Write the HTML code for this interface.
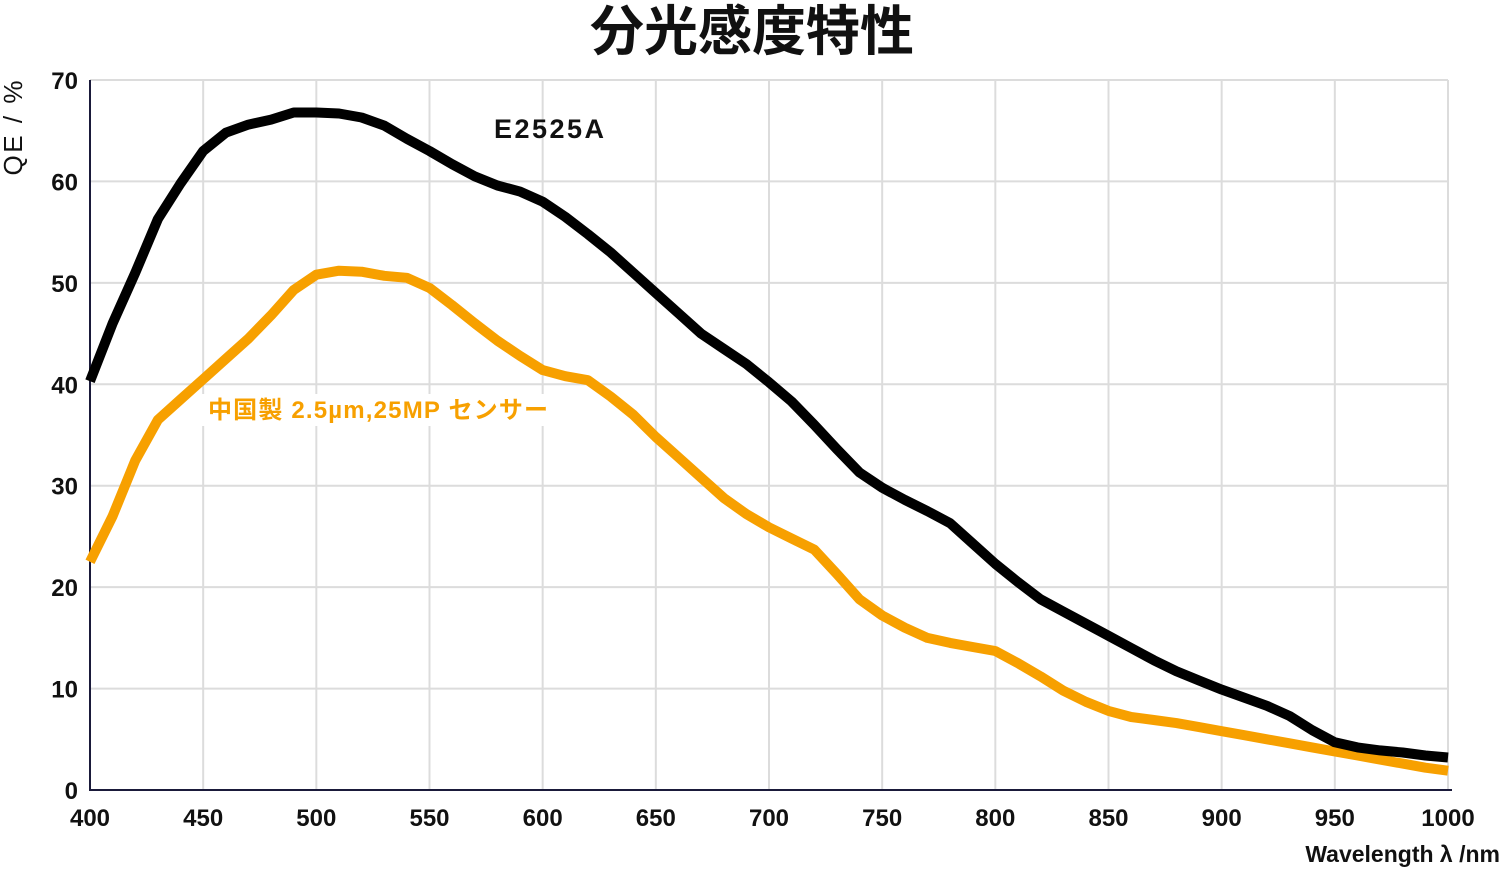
<!DOCTYPE html>
<html><head><meta charset="utf-8">
<style>
html,body{margin:0;padding:0;background:#fff;}
svg{display:block;font-family:"Liberation Sans","Noto Sans CJK JP",sans-serif;}
</style></head>
<body>
<svg id="chart" width="1501" height="890" viewBox="0 0 1501 890">
<text x="752" y="50" text-anchor="middle" font-size="54" font-weight="bold" fill="#111" font-family="'Noto Sans CJK JP',sans-serif">分光感度特性</text>
<g id="grid"></g>
<g id="axes"></g>
<g id="series"></g>
<text transform="translate(22,128) rotate(-90)" text-anchor="middle" font-size="26" fill="#111" textLength="95">QE / %</text>
<text x="1500" y="862" text-anchor="end" font-size="23" font-weight="bold" fill="#111">Wavelength λ /nm</text>
<text x="494" y="138" font-size="27" font-weight="bold" fill="#111" textLength="110">E2525A</text>
<rect x="202" y="394" width="350" height="32" fill="#fff"/>
<text x="208" y="418" font-size="24" font-weight="bold" fill="#f7a000" textLength="340">中国製 2.5µm,25MP センサー</text>
</svg>
<script>
const xTicks=[400,450,500,550,600,650,700,750,800,850,900,950,1000];
const yTicks=[0,10,20,30,40,50,60,70];
const wavelengths=[400,410,420,430,440,450,460,470,480,490,500,510,520,530,540,550,560,570,580,590,600,610,620,630,640,650,660,670,680,690,700,710,720,730,740,750,760,770,780,790,800,810,820,830,840,850,860,870,880,890,900,910,920,930,940,950,960,970,980,990,1000];
const e2525a=[40.3,46,51,56.3,59.8,63,64.8,65.6,66.1,66.8,66.8,66.7,66.3,65.5,64.2,63,61.7,60.5,59.6,59,58,56.5,54.8,53,51,49,47,45,43.5,42,40.2,38.3,36,33.6,31.3,29.8,28.6,27.5,26.3,24.3,22.3,20.5,18.8,17.6,16.4,15.2,14,12.8,11.7,10.8,9.9,9.1,8.3,7.3,5.9,4.7,4.2,3.9,3.7,3.4,3.2];
const chinaSensor=[22.5,27,32.5,36.5,38.5,40.5,42.5,44.5,46.8,49.3,50.8,51.2,51.1,50.7,50.5,49.5,47.8,46,44.3,42.8,41.4,40.8,40.4,38.8,37,34.8,32.8,30.8,28.8,27.2,25.9,24.8,23.7,21.3,18.8,17.2,16,15,14.5,14.1,13.7,12.5,11.2,9.8,8.7,7.8,7.2,6.9,6.6,6.2,5.8,5.4,5.0,4.6,4.2,3.8,3.4,3.0,2.6,2.2,1.9];
const NS="http://www.w3.org/2000/svg";
const X0=90,X1=1448,Y0=790,Y1=80;
const xs=v=>X0+(v-400)/600*(X1-X0);
const ys=v=>Y0-v/70*(Y0-Y1);
function mk(tag,attrs,parent){const e=document.createElementNS(NS,tag);for(const k in attrs)e.setAttribute(k,attrs[k]);parent.appendChild(e);return e;}
const grid=document.getElementById('grid'),axes=document.getElementById('axes'),series=document.getElementById('series');
xTicks.forEach(t=>{
  if(t>400){const l=mk('line',{x1:xs(t),x2:xs(t),y1:Y1,y2:Y0,stroke:'#dcdcdc','stroke-width':2},grid);
  
  }
  const tx=mk('text',{x:xs(t),y:826,'text-anchor':'middle','font-size':24,'font-weight':'bold',fill:'#111'},axes);
  tx.textContent=t;
  
  
});
yTicks.forEach(t=>{
  if(t>0){const l=mk('line',{x1:X0,x2:X1,y1:ys(t),y2:ys(t),stroke:'#dcdcdc','stroke-width':2},grid);
  
  }
  const tx=mk('text',{x:78,y:ys(t)+9,'text-anchor':'end','font-size':24,'font-weight':'bold',fill:'#111'},axes);
  tx.textContent=t;
  
  
});
const ax=mk('path',{d:`M${X0} ${Y1} V${Y0} H${X1+4}`,fill:'none',stroke:'#1a1a3a','stroke-width':2},axes);


function line(vals,color,name){
  const d=vals.map((v,i)=>(i?'L':'M')+xs(wavelengths[i]).toFixed(1)+' '+ys(v).toFixed(1)).join(' ');
  const p=mk('path',{d:d,fill:'none',stroke:color,'stroke-width':10,'stroke-linejoin':'round'},series);
  
  
}
line(chinaSensor,'#f7a000','china-sensor-line');
line(e2525a,'#000','e2525a-line');
</script>
</body></html>
